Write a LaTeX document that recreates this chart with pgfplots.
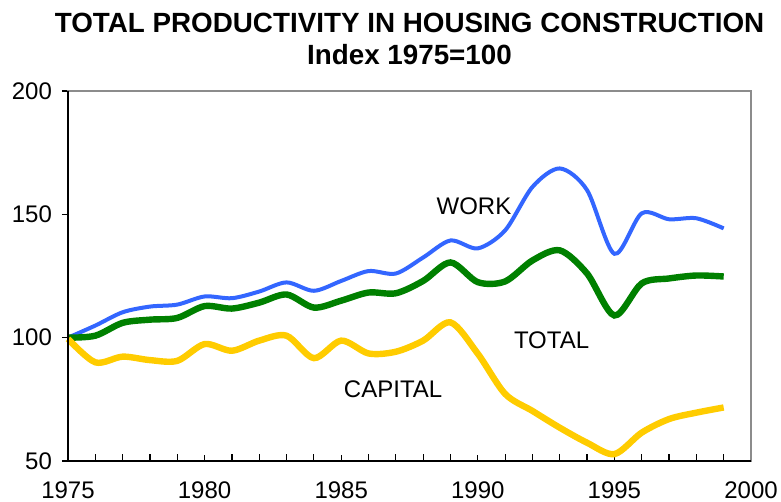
\documentclass[border=0pt]{standalone}
\usepackage{fontspec}
\setmainfont{Liberation Sans}
\usepackage{pgfplots}
\pgfplotsset{compat=1.18}
\definecolor{cwork}{RGB}{51,102,255}
\definecolor{ctotal}{RGB}{0,128,0}
\definecolor{ccap}{RGB}{255,204,0}
\begin{document}
\begin{tikzpicture}
\begin{axis}[
  scale only axis,
  width=341.5pt, height=185pt,
  xmin=1975, xmax=2000, ymin=50, ymax=200,
  xtick={1975,1980,...,2000},
  ytick={50,100,150,200},
  minor x tick num=4,
  xtick pos=bottom, ytick pos=left,
  xtick align=inside, ytick align=outside,
  major tick length=3pt, minor tick length=3.5pt,
  tick style={black, line width=0.6pt},
  axis line style={draw=gray!90, line width=1pt},
  /pgf/number format/1000 sep={},
  /pgf/number format/assume math mode=true,
  ticklabel style={font=\fontsize{12}{14}\selectfont},
  xticklabel style={yshift=-7pt},
  yticklabel style={xshift=-1.5pt},
  clip=false,
  after end axis/.code={
    \draw[black, line width=1pt] (rel axis cs:0,1) -- (rel axis cs:0,0) -- (rel axis cs:1,0);
    \coordinate (BL) at (rel axis cs:0,0);
    \coordinate (TR) at (rel axis cs:1,1);
    \coordinate (TC) at (rel axis cs:0.5,1);
  },
]
\addplot[cwork, line width=2pt, smooth, tension=0.5] coordinates {
(1975,100) (1976,104.9) (1977,110.3) (1978,112.6) (1979,113.4) (1980,116.7)
(1981,116) (1982,118.7) (1983,122.4) (1984,119) (1985,123) (1986,127)
(1987,126) (1988,132.5) (1989,139.4) (1990,136.2) (1991,143.5) (1992,161.1)
(1993,168.6) (1994,159.8) (1995,134) (1996,150.4) (1997,148) (1998,148.4) (1999,144.3)};
\addplot[ctotal, line width=3.2pt, smooth, tension=0.5] coordinates {
(1975,100) (1976,100.8) (1977,106) (1978,107.3) (1979,108) (1980,112.8)
(1981,111.8) (1982,114.2) (1983,117.5) (1984,112.2) (1985,115) (1986,118.3)
(1987,118) (1988,123) (1989,130.5) (1990,122.5) (1991,122.8) (1992,131.3)
(1993,135.4) (1994,126) (1995,109) (1996,122) (1997,124) (1998,125.2) (1999,124.8)};
\addplot[ccap, line width=3.2pt, smooth, tension=0.5] coordinates {
(1975,99.5) (1976,90) (1977,92.3) (1978,90.9) (1979,90.6) (1980,97.4)
(1981,94.7) (1982,98.8) (1983,100.8) (1984,91.7) (1985,98.8) (1986,93.6)
(1987,94.3) (1988,98.8) (1989,106.2) (1990,93.5) (1991,77.2) (1992,70.3)
(1993,63.5) (1994,57.4) (1995,52.8) (1996,61.5) (1997,67) (1998,69.6) (1999,71.7)};
\node[font=\fontsize{12}{14}\selectfont] at (axis cs:1989.86,153.3) {WORK};
\node[font=\fontsize{12}{14}\selectfont] at (axis cs:1992.7,98.8) {TOTAL};
\node[font=\fontsize{12}{14}\selectfont] at (axis cs:1986.9,78.9) {CAPITAL};
\end{axis}
\node[anchor=base, inner sep=0pt, font=\bfseries\fontsize{13.9}{16}\selectfont] at ([yshift=29pt]TC) {TOTAL PRODUCTIVITY IN HOUSING CONSTRUCTION};
\node[anchor=base, inner sep=0pt, font=\bfseries\fontsize{13.9}{16}\selectfont] at ([yshift=13pt]TC) {Index 1975=100};
\pgfresetboundingbox
\path ([shift={(-34pt,-20.5pt)}]BL) rectangle ([shift={(15pt,45.5pt)}]TR);
\end{tikzpicture}
\end{document}
